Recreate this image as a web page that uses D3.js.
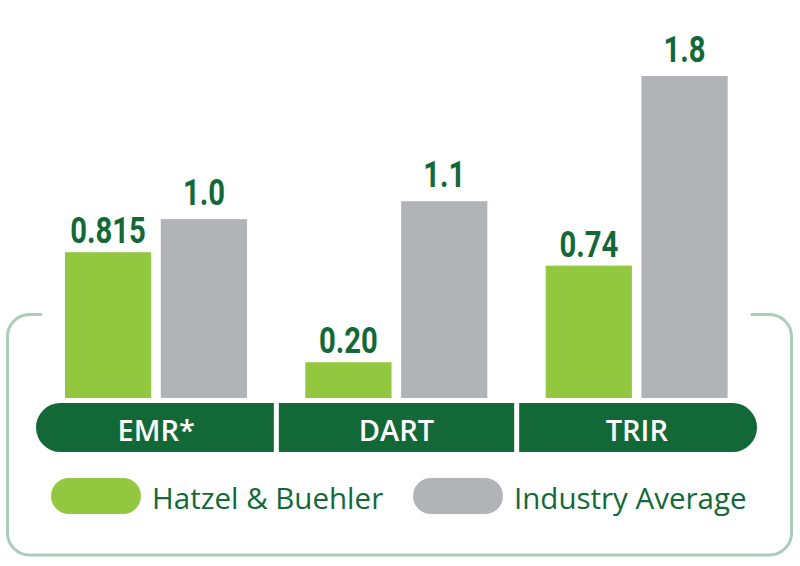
<!DOCTYPE html>
<html>
<head>
<meta charset="utf-8">
<script src="https://cdn.jsdelivr.net/npm/d3@7"></script>
<style>
  html, body { margin: 0; padding: 0; background: #ffffff; }
  svg { display: block; }
</style>
</head>
<body>
<svg id="chart" width="800" height="566"></svg>
<script>
// ---- data ----
const categories = ["EMR*", "DART", "TRIR"];
const seriesNames = ["Hatzel & Buehler", "Industry Average"];
const hatzelValues = [0.815, 0.20, 0.74];
const industryValues = [1.0, 1.1, 1.8];
const hatzelLabels = ["0.815", "0.20", "0.74"];
const industryLabels = ["1.0", "1.1", "1.8"];

const colors = { "Hatzel & Buehler": "#92c740", "Industry Average": "#b2b3b6" };
const darkGreen = "#126937";
const frameColor = "#a9cdb7";

const rows = categories.map((c, i) => ({
  category: c,
  values: [
    { series: seriesNames[0], value: hatzelValues[i], label: hatzelLabels[i] },
    { series: seriesNames[1], value: industryValues[i], label: industryLabels[i] }
  ]
}));

const svg = d3.select("#chart");

// ---- scales ----
const bandLeft = 36, bandRight = 757;
const x0 = d3.scaleBand().domain(categories).range([bandLeft, bandRight]).paddingInner(0).paddingOuter(0);
const x1 = d3.scaleBand().domain(seriesNames).range([29, 211]).paddingInner(0.1);
const baseY = 398;
const y = d3.scaleLinear().domain([0, 1.8]).range([baseY, 76]);

// ---- frame ----
const fL = 7.5, fR = 791.5, fT = 314.5, fB = 555, r = 22;
const framePath = d3.path();
framePath.moveTo(41, fT);
framePath.lineTo(fL + r, fT);
framePath.arcTo(fL, fT, fL, fT + r, r);
framePath.lineTo(fL, fB - r);
framePath.arcTo(fL, fB, fL + r, fB, r);
framePath.lineTo(fR - r, fB);
framePath.arcTo(fR, fB, fR, fB - r, r);
framePath.lineTo(fR, fT + r);
framePath.arcTo(fR, fT, fR - r, fT, r);
framePath.lineTo(752, fT);
svg.append("path")
  .attr("d", framePath.toString())
  .attr("fill", "none")
  .attr("stroke", frameColor)
  .attr("stroke-width", 3)
  .attr("stroke-linecap", "round");

// ---- bars ----
const groups = svg.append("g").selectAll("g")
  .data(rows).join("g")
  .attr("transform", d => `translate(${x0(d.category)},0)`);

groups.selectAll("rect")
  .data(d => d.values).join("rect")
  .attr("x", d => x1(d.series))
  .attr("width", x1.bandwidth())
  .attr("y", d => y(d.value))
  .attr("height", d => baseY - y(d.value))
  .attr("fill", d => colors[d.series]);

groups.selectAll("g.lbl")
  .data(d => d.values).join("g")
  .attr("class", "lbl")
  .attr("transform", d => `translate(${x1(d.series) + x1.bandwidth() / 2},${y(d.value) - (d.series === seriesNames[0] ? 9 : 14)}) scale(0.79,1)`)
  .append("text")
  .attr("text-anchor", "middle")
  .attr("fill", darkGreen)
  .attr("font-family", "Roboto, 'Liberation Sans', sans-serif")
  .attr("font-weight", 700)
  .attr("font-size", 37)
  .text(d => d.label);

// ---- category band ----
const bandTop = 403, bandBottom = 452;
svg.append("rect")
  .attr("x", bandLeft)
  .attr("y", bandTop)
  .attr("width", bandRight - bandLeft)
  .attr("height", bandBottom - bandTop)
  .attr("rx", (bandBottom - bandTop) / 2)
  .attr("fill", darkGreen);

svg.append("g").selectAll("line")
  .data(categories.slice(1)).join("line")
  .attr("x1", d => x0(d)).attr("x2", d => x0(d))
  .attr("y1", bandTop - 1).attr("y2", bandBottom + 1)
  .attr("stroke", "#ffffff")
  .attr("stroke-width", 5);

svg.append("g").selectAll("text")
  .data(categories).join("text")
  .attr("x", d => x0(d) + x0.bandwidth() / 2)
  .attr("y", 441)
  .attr("text-anchor", "middle")
  .attr("fill", "#ffffff")
  .attr("font-family", "'Open Sans', sans-serif")
  .attr("font-weight", 600)
  .attr("font-size", 29)
  .text(d => d);

// ---- legend ----
const legendX = [51, 413];
const legend = svg.append("g").selectAll("g")
  .data(seriesNames).join("g")
  .attr("transform", (d, i) => `translate(${legendX[i]},478)`);

legend.append("rect")
  .attr("width", 90).attr("height", 36).attr("rx", 18)
  .attr("fill", d => colors[d]);

legend.append("text")
  .attr("x", 101).attr("y", 31)
  .attr("fill", darkGreen)
  .attr("font-family", "'Open Sans', sans-serif")
  .attr("font-size", 29.5)
  .text(d => d);
</script>
</body>
</html>
